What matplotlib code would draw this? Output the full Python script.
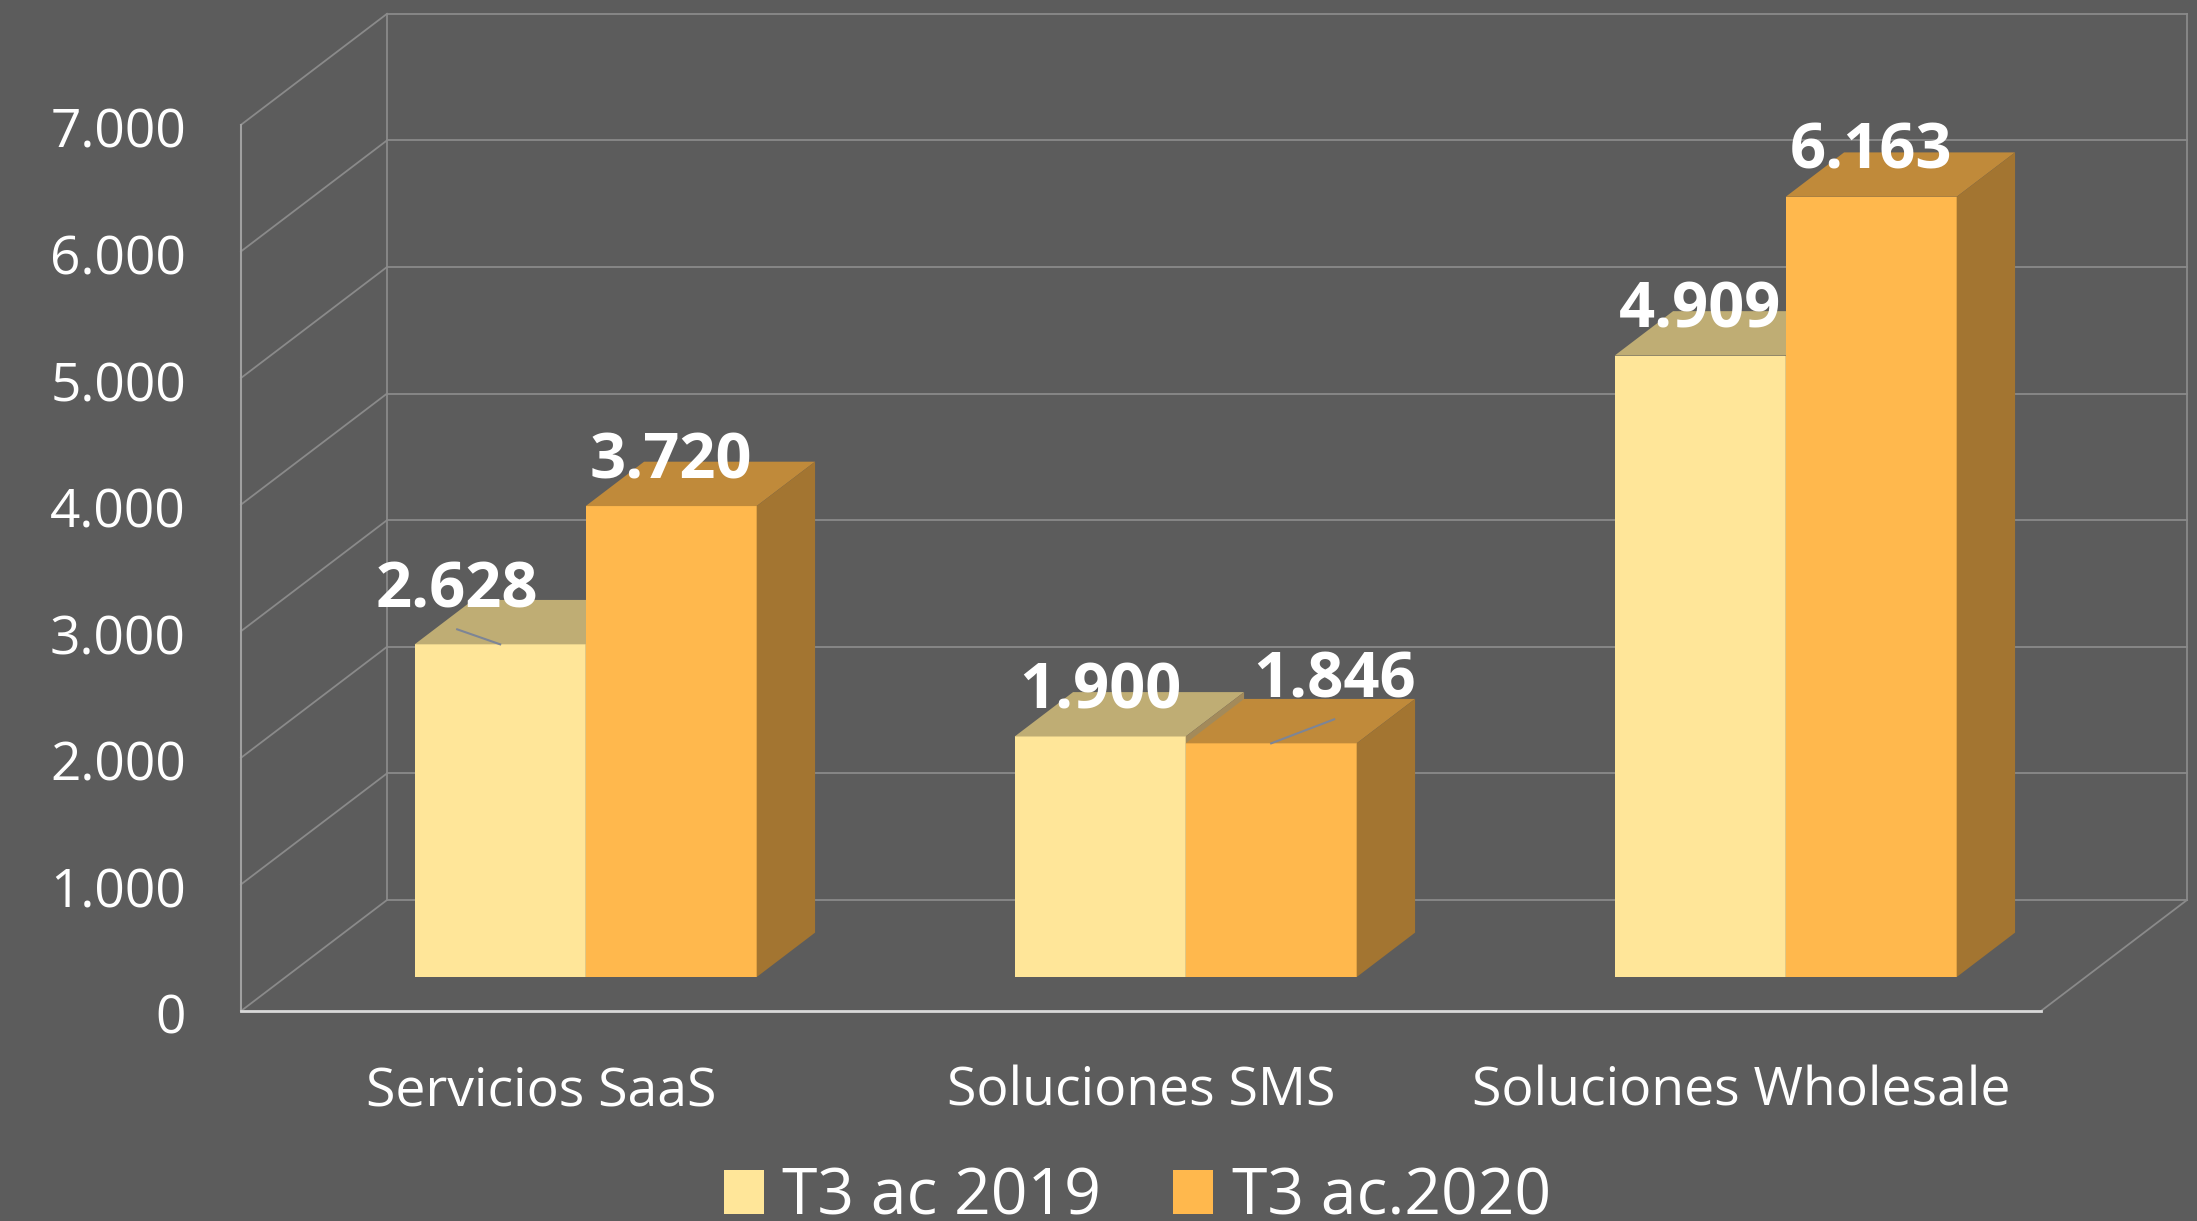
import matplotlib.pyplot as plt
from matplotlib.patches import Polygon, Patch

# data
categories = ['Servicios SaaS', 'Soluciones SMS', 'Soluciones Wholesale']
series_names = ['T3 ac 2019', 'T3 ac.2020']
values_2019 = [2628, 1900, 4909]
values_2020 = [3720, 1846, 6163]
labels_2019 = ['2.628', '1.900', '4.909']
labels_2020 = ['3.720', '1.846', '6.163']
y_ticks = [0, 1000, 2000, 3000, 4000, 5000, 6000, 7000]
y_tick_labels = ['0', '1.000', '2.000', '3.000', '4.000', '5.000', '6.000', '7.000']

# colours
bg = '#5c5c5c'
grid_c = '#8a8a8a'
front_c = ['#ffe699', '#ffb84d']
top_c = ['#bfad74', '#c08a3a']
side_c = ['#a38a5a', '#a37531']

# layout (pixels of the output image)
W, H = 2197, 1221
px_cat0, px_cat = 541, 600        # x of category 0 on the front plane, spacing
py_zero, px_per_val = 1011, 0.1266
kx = 146 / px_cat                  # full depth offset, category units
kv = 111 / px_per_val              # full depth offset, value units
gw = 342 / px_cat                  # group width
bw = gw / 2
t0, tb = 0.306, 0.40               # bar front depth, bar depth (fraction)
px_v = 1 / px_per_val              # value units per pixel

fig = plt.figure(figsize=(W / 100, H / 100), dpi=100, facecolor=bg)
ax = fig.add_axes([0, 0, 1, 1])
ax.set_facecolor(bg)
ax.set_xlim(-px_cat0 / px_cat, (W - px_cat0) / px_cat)
ax.set_ylim((py_zero - H) * px_v, py_zero * px_v)
ax.axis('off')

font = 'Open Sans'
x_l, x_r = -0.5, len(categories) - 0.5
top_v = y_ticks[-1]

# walls and floor
for v in y_ticks:
    ax.plot([x_l + kx, x_r + kx], [v + kv, v + kv], color=grid_c, lw=1.3, zorder=1)
    ax.plot([x_l, x_l + kx], [v, v + kv], color=grid_c, lw=1.3, zorder=1)
ax.plot([x_l, x_l], [0, top_v], color='#a0a0a0', lw=1.5, zorder=1)
ax.plot([x_l + kx, x_l + kx], [kv, top_v + kv], color=grid_c, lw=1.3, zorder=1)
ax.plot([x_r + kx, x_r + kx], [kv, top_v + kv], color=grid_c, lw=1.3, zorder=1)
ax.plot([x_r, x_r + kx], [0, kv], color=grid_c, lw=1.3, zorder=1)
ax.plot([x_l, x_r], [0, 0], color='#d9d9d9', lw=2, zorder=1)

# label nudges for the two labels moved by hand (category units, value units)
nudge = {(0, 0): (-43 / px_cat, 37 * px_v), (1, 1): (63 / px_cat, 46 * px_v)}

z = 2
for i in range(len(categories)):
    for j, (vals, labs) in enumerate([(values_2019, labels_2019), (values_2020, labels_2020)]):
        val = vals[i]
        x0 = i - gw / 2 + j * bw + t0 * kx
        base = t0 * kv
        h = base + val
        dx, dv = tb * kx, tb * kv
        front = Polygon([(x0, base), (x0 + bw, base), (x0 + bw, h), (x0, h)],
                        closed=True, fc=front_c[j], ec='none', zorder=z)
        top = Polygon([(x0, h), (x0 + bw, h), (x0 + bw + dx, h + dv), (x0 + dx, h + dv)],
                      closed=True, fc=top_c[j], ec='none', zorder=z)
        side = Polygon([(x0 + bw, base), (x0 + bw + dx, base + dv),
                        (x0 + bw + dx, h + dv), (x0 + bw, h)],
                       closed=True, fc=side_c[j], ec='none', zorder=z)
        for p in (front, top, side):
            ax.add_patch(p)
        z += 1

        cx = x0 + bw / 2
        if (i, j) in nudge:
            ox, oy = nudge[(i, j)]
            lx, ly = cx + ox, h + oy
            ax.plot([lx, cx], [ly - 22 * px_v, h], color='#7d8596', lw=1.5, zorder=20)
        else:
            lx, ly = cx, h + 28 * px_v
        ax.text(lx, ly, labs[i], ha='center', va='baseline', color='white',
                fontsize=45.5, fontweight='bold', family=font, zorder=30)

# value axis labels
for v, t in zip(y_ticks, y_tick_labels):
    ax.text(x_l - 55 / px_cat, v - 23 * px_v, t, ha='right', va='baseline',
            color='white', fontsize=38.3, family=font)

# category labels
for i, c in enumerate(categories):
    ax.text(i, -94 * px_v, c, ha='center', va='baseline', color='white',
            fontsize=38.5, family=font)

handles = [Patch(fc=front_c[0], ec='none'), Patch(fc=front_c[1], ec='none')]
leg = ax.legend(handles, series_names, loc='lower center', ncol=2,
                bbox_to_anchor=(0.5177, -0.007), bbox_transform=fig.transFigure,
                frameon=False, handlelength=0.62, handleheight=0.66,
                handletextpad=0.29, columnspacing=1.12, borderpad=0, borderaxespad=0,
                labelcolor='white', prop={'family': font, 'size': 46.3})

fig.savefig('out.png', dpi=100, facecolor=bg)
